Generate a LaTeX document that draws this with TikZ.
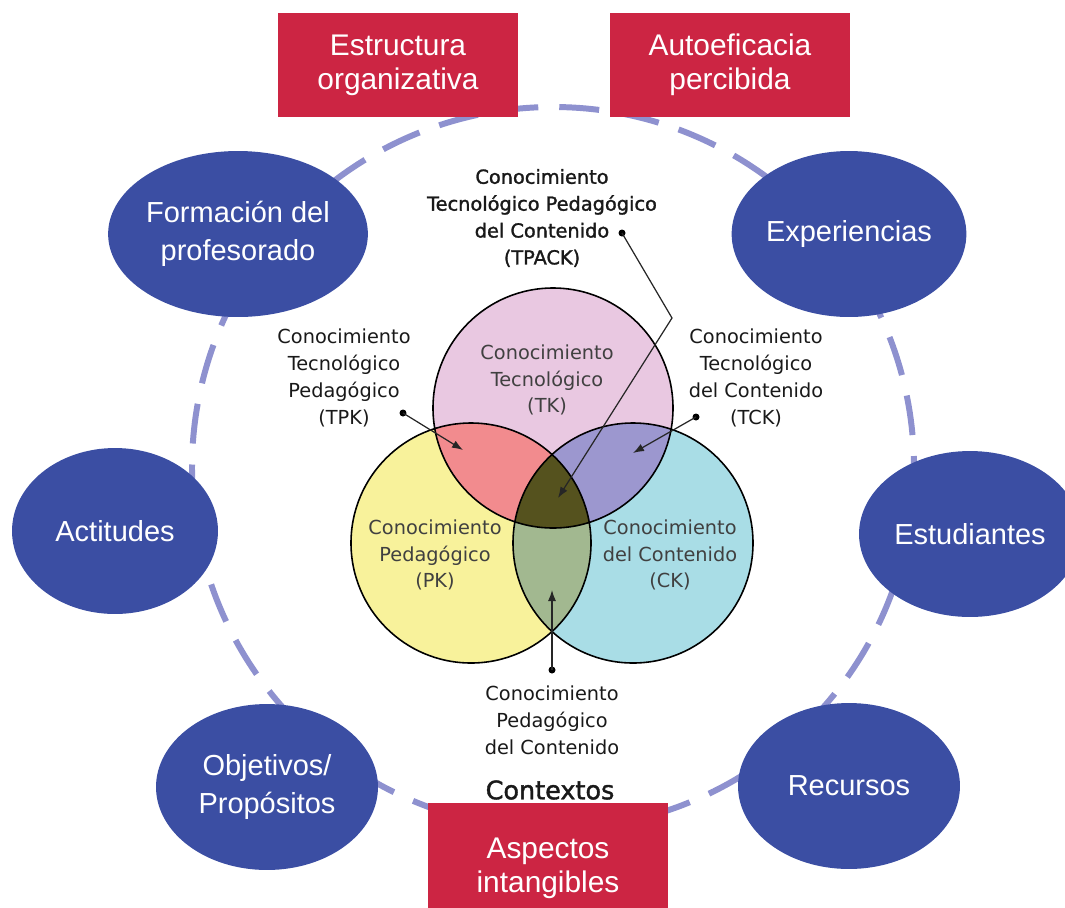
\documentclass[tikz,border=0pt]{standalone}
\usepackage{fontspec}
\setmainfont{Liberation Sans}
\newfontfamily\vennfont{DejaVu Sans}
\newfontfamily\vennboldfont[FakeBold=1.5]{DejaVu Sans}
\usepackage{tikz}
\usetikzlibrary{shapes.geometric}
\usetikzlibrary{arrows.meta}
\usepackage{xcolor}

\definecolor{blobblue}{HTML}{3B4EA3}
\definecolor{boxred}{HTML}{CC2543}
\definecolor{ringblue}{HTML}{8E91CF}
\definecolor{tkpink}{HTML}{E9C8E1}
\definecolor{pkyellow}{HTML}{F8F29B}
\definecolor{ckcyan}{HTML}{A9DDE6}
\definecolor{tpkred}{HTML}{F28B8E}
\definecolor{tckviolet}{HTML}{9C97CF}
\definecolor{pckgreen}{HTML}{A2B890}
\definecolor{tpackolive}{HTML}{55521E}

\begin{document}
\begin{tikzpicture}[x=0.02cm, y=-0.02cm]
        % ================= 样式定义 =================
        \tikzset{
            % 外圈蓝色椭圆:白字
            blob/.style={ellipse, fill=blobblue, text=white, minimum width=4.44cm, minimum height=3.32cm, inner sep=0pt, align=center, font=\fontsize{16.5}{21.5}\selectfont},
            % 红色方框
            redbox/.style={rectangle, fill=boxred, text=white, minimum width=4.82cm, minimum height=2.08cm, inner sep=0pt, align=center, font=\fontsize{17}{19.5}\selectfont},
            % 虚线大圆 (Contextos)
            ring/.style={ringblue, line width=3.4pt, dash pattern=on 0.8cm off 0.42cm},
            % 韦恩图轮廓
            rim/.style={black, line width=0.9pt},
            % 文字标注
            lbl/.style={align=center, inner sep=0pt, text=black!90, font=\vennfont\fontsize{11}{15.3}\selectfont},
            inlbl/.style={lbl, text=black!75},
            % 指示箭头与圆点
            pointer/.style={line width=0.7pt, black!85, -{Latex[length=2.2mm,width=1.6mm]}},
            tipdot/.style={circle, fill=black, inner sep=0pt, minimum size=1.4mm}
        }

        \useasboundingbox (0,0) rectangle (1065,907);
        \clip (0,0) rectangle (1065,907);

        % ================= 虚线大圆 =================
        \draw[ring] (553,468) circle (361);

        % ================= 韦恩图:TK, PK, CK =================
        \def\vr{120}
        \coordinate (tk) at (553,408);
        \coordinate (pk) at (471,543);
        \coordinate (ck) at (633,543);

        \fill[tkpink] (tk) circle (\vr);
        \fill[pkyellow] (pk) circle (\vr);
        \fill[ckcyan] (ck) circle (\vr);

        % 两两相交区域
        \begin{scope}
            \clip (tk) circle (\vr);
            \fill[tpkred] (pk) circle (\vr);
        \end{scope}
        \begin{scope}
            \clip (tk) circle (\vr);
            \fill[tckviolet] (ck) circle (\vr);
        \end{scope}
        \begin{scope}
            \clip (pk) circle (\vr);
            \fill[pckgreen] (ck) circle (\vr);
        \end{scope}
        % 三者相交 (TPACK)
        \begin{scope}
            \clip (tk) circle (\vr);
            \clip (pk) circle (\vr);
            \fill[tpackolive] (ck) circle (\vr);
        \end{scope}

        \draw[rim] (tk) circle (\vr) (pk) circle (\vr) (ck) circle (\vr);

        % 圆内文字
        \node[inlbl] (tklbl) at (547,380) {Conocimiento\\Tecnológico\\(TK)};
        \node[inlbl] (pklbl) at (435,555) {Conocimiento\\Pedagógico\\(PK)};
        \node[inlbl] (cklbl) at (670,555) {Conocimiento\\del Contenido\\(CK)};

        % ================= 外部标注 + 箭头 =================
        \node[lbl, font=\vennboldfont\fontsize{11}{15.3}\selectfont] (tpacklbl) at (542,218) {Conocimiento\\Tecnológico Pedagógico\\del Contenido\\(TPACK)};
        \node[lbl] (tpklbl) at (344,378) {Conocimiento\\Tecnológico\\Pedagógico\\(TPK)};
        \node[lbl] (tcklbl) at (756,378) {Conocimiento\\Tecnológico\\del Contenido\\(TCK)};
        \node[lbl] (pcklbl) at (552,720) {Conocimiento\\Pedagógico\\del Contenido};
        \node[lbl, font=\vennboldfont\fontsize{14.5}{17}\selectfont] (contextos) at (550,790) {Contextos};

        % TPACK:折线指向中心
        \node[tipdot] (tpackdot) at (622,233) {};
        \coordinate (tpackbend) at (672,318);
        \coordinate (tpacktip) at (558,498);
        \draw[pointer] (tpackdot.center) -- (tpackbend) -- (tpacktip);

        % TPK
        \node[tipdot] (tpkdot) at (403,413) {};
        \coordinate (tpktip) at (463,450);
        \draw[pointer] (tpkdot.center) -- (tpktip);

        % TCK
        \node[tipdot] (tckdot) at (696,417) {};
        \coordinate (tcktip) at (633,453);
        \draw[pointer] (tckdot.center) -- (tcktip);

        % PCK
        \node[tipdot] (pckdot) at (552,670) {};
        \coordinate (pcktip) at (552,590);
        \draw[pointer] (pckdot.center) -- (pcktip);

        % ================= 外圈椭圆 =================
        \node[blob] (formacion) at (238,234) {Formación del\\profesorado};
        \node[blob] (experiencias) at (849,234) {Experiencias};
        \node[blob, minimum width=4.12cm] (actitudes) at (115,531) {Actitudes};
        \node[blob] (estudiantes) at (970,534) {Estudiantes};
        \node[blob] (objetivos) at (267,787) {Objetivos/\\Propósitos};
        \node[blob] (recursos) at (849,786) {Recursos};

        % ================= 红色方框 =================
        \node[redbox] (estructura) at (398,65) {Estructura\\organizativa};
        \node[redbox] (autoeficacia) at (730,65) {Autoeficacia\\percibida};
        \node[redbox, minimum width=4.8cm, minimum height=2.6cm] (aspectos) at (548,868) {Aspectos\\intangibles};

    \end{tikzpicture}
\end{document}
